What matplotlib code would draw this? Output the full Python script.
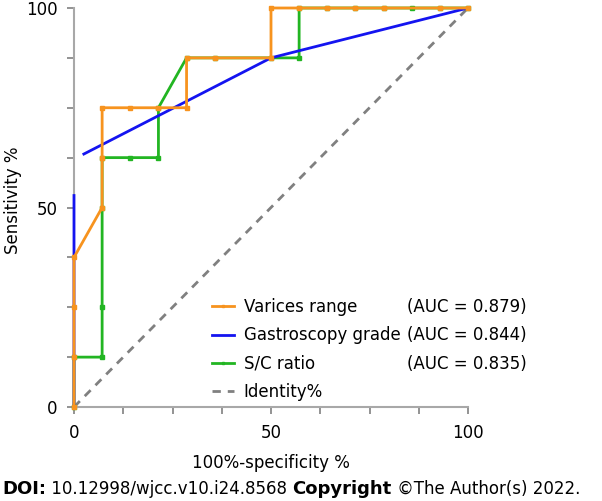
"""ROC curves: varices range, gastroscopy grade and S/C ratio."""
import numpy as np
import matplotlib
matplotlib.use('Agg')
import matplotlib.pyplot as plt
from matplotlib.ticker import MultipleLocator

# 100%-specificity (%) / sensitivity (%)
varices_x = [0, 0, 0, 0, 7.14, 7.14, 7.14, 14.29, 21.43, 28.57, 28.57, 35.71, 50, 50,
             57.14, 64.29, 71.43, 78.57, 92.86, 100]
varices_y = [0, 12.5, 25, 37.5, 50, 62.5, 75, 75, 75, 75, 87.5, 87.5, 87.5, 100,
             100, 100, 100, 100, 100, 100]

gastro_x = [0, 0, np.nan, 2.5, 50, 100]
gastro_y = [0, 53, np.nan, 63.4, 87.5, 100]

sc_x = [0, 0, 7.14, 7.14, 7.14, 7.14, 14.29, 21.43, 21.43, 28.57, 35.71, 50, 57.14, 57.14,
        64.29, 71.43, 78.57, 85.71, 92.86, 100]
sc_y = [0, 12.5, 12.5, 25, 50, 62.5, 62.5, 62.5, 75, 87.5, 87.5, 87.5, 87.5, 100,
        100, 100, 100, 100, 100, 100]

names = ["Varices range", "Gastroscopy grade", "S/C ratio", "Identity%"]
aucs = ["(AUC = 0.879)", "(AUC = 0.844)", "(AUC = 0.835)"]

ORANGE = '#F7931E'
BLUE = '#1414F0'
GREEN = '#22B522'
GREY = '#808080'

plt.rcParams['font.family'] = 'DejaVu Sans'
fs = 12

fig = plt.figure(figsize=(6.02, 5.01), dpi=100)
ax = fig.add_axes([74 / 602, 1 - 407 / 501, 394 / 602, 399 / 501])

ax.plot([0, 100], [0, 100], color=GREY, lw=2, ls=(0, (3, 2.5)), zorder=1, label=names[3])
ax.plot(sc_x, sc_y, color=GREEN, lw=2, marker='s', ms=2.6, zorder=2, clip_on=False, label=names[2])
ax.plot(gastro_x, gastro_y, color=BLUE, lw=2, marker=None, zorder=3, clip_on=False, label=names[1])
ax.plot(varices_x, varices_y, color=ORANGE, lw=2, marker='s', ms=2.6, zorder=4, clip_on=False,
        label=names[0])

ax.set_xlim(0, 100)
ax.set_ylim(0, 100)
for axis in (ax.xaxis, ax.yaxis):
    axis.set_major_locator(MultipleLocator(50))
    axis.set_minor_locator(MultipleLocator(12.5))
ax.tick_params(which='both', direction='out', length=5, width=1.2, color=GREY,
               labelsize=fs, pad=7)
for side in ('top', 'right'):
    ax.spines[side].set_visible(False)
for side in ('left', 'bottom'):
    ax.spines[side].set_color('#A8A8A8')
    ax.spines[side].set_linewidth(1.5)

ax.set_xlabel("100%-specificity %", fontsize=fs, labelpad=9)
fig.text(13 / 602, 1 - 200 / 501, "Sensitivity %", fontsize=fs, rotation=90,
         ha='center', va='center')

handles, labels = ax.get_legend_handles_labels()
order = [3, 2, 1, 0]
leg = ax.legend([handles[i] for i in order], [labels[i] for i in order],
                loc='upper left', bbox_to_anchor=(212 / 602, 1 - 298 / 501),
                bbox_transform=fig.transFigure, frameon=False, fontsize=fs,
                handlelength=1.3, handletextpad=0.6, labelspacing=0.62,
                borderaxespad=0, borderpad=0, markerscale=0.8)

fig.canvas.draw()
renderer = fig.canvas.get_renderer()
inv = fig.transFigure.inverted()
for txt, auc in zip(leg.get_texts()[:3], aucs):
    bb = txt.get_window_extent(renderer)
    yc = inv.transform((0, (bb.y0 + bb.y1) / 2))[1]
    fig.text(407 / 602, yc, auc, fontsize=fs, va='center', ha='left')

# footer line
pieces = [("DOI:", 'bold', 13), (" 10.12998/wjcc.v10.i24.8568 ", 'normal', 12),
          ("Copyright", 'bold', 13), (" ©The Author(s) 2022.", 'normal', 12)]
x = 2
for s, w, size in pieces:
    t = fig.text(x / 602, 1 - 494 / 501, s, fontsize=size, fontweight=w,
                 va='baseline', ha='left')
    fig.canvas.draw()
    x = t.get_window_extent(renderer).x1

fig.savefig("out.png", dpi=100)
